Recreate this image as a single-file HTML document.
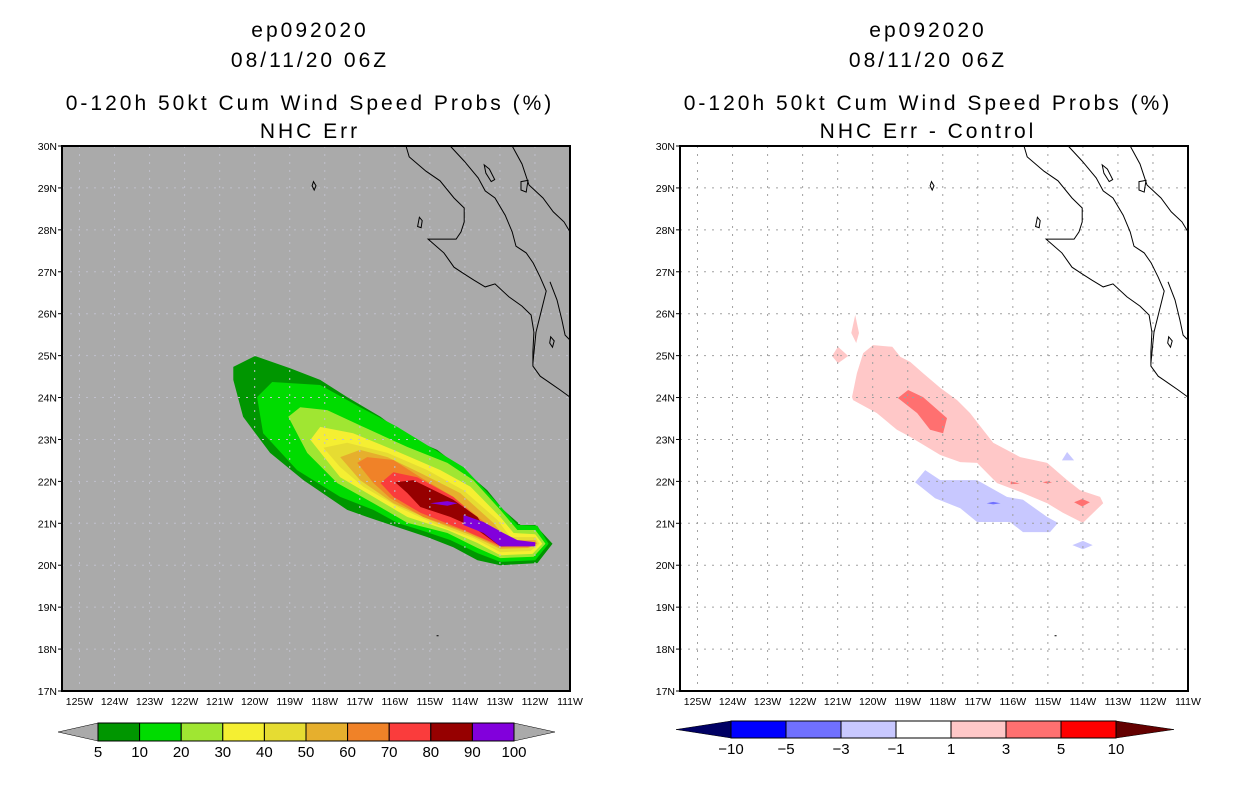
<!DOCTYPE html>
<html><head><meta charset="utf-8"><style>
html,body{margin:0;padding:0;background:#fff;}
svg{display:block;font-family:"Liberation Sans",sans-serif;}
.ttl{font-size:21px;text-anchor:middle;fill:#000;letter-spacing:3px;}
.tk{font-size:10.5px;fill:#000;}
.cb{font-size:15px;fill:#000;text-anchor:middle;}
</style></head><body>
<svg id="fig" width="1236" height="800" viewBox="0 0 1236 800">
<text class="ttl" x="310" y="37">ep092020</text>
<text class="ttl" x="310" y="67">08/11/20 06Z</text>
<text class="ttl" x="310" y="110">0-120h 50kt Cum Wind Speed Probs (%)</text>
<text class="ttl" x="310" y="138">NHC Err</text>
<text class="ttl" x="928" y="37">ep092020</text>
<text class="ttl" x="928" y="67">08/11/20 06Z</text>
<text class="ttl" x="928" y="110">0-120h 50kt Cum Wind Speed Probs (%)</text>
<text class="ttl" x="928" y="138">NHC Err - Control</text>
<g id="left"></g>
<g id="right"></g>
<g id="cbl"></g>
<g id="cbr"></g>
</svg>
<script>
// ---- data ----
const lonTicks=[-125,-124,-123,-122,-121,-120,-119,-118,-117,-116,-115,-114,-113,-112,-111];
const latTicks=[17,18,19,20,21,22,23,24,25,26,27,28,29,30];
const probLevels=[5,10,20,30,40,50,60,70,80,90,100];
const probColors=["#009600","#00dc00","#a0e632","#f5ef32","#e6dc32","#e6af2d","#f08228","#fa3c3c","#960000","#8200dc"];
const p5=[[-120.61,24.73],[-119.99,24.99],[-118.99,24.70],[-118.13,24.42],[-117.36,24.01],[-116.41,23.54],[-115.64,23.06],[-114.79,22.75],[-113.93,22.20],[-113.36,21.79],[-112.9,21.32],[-112.41,20.96],[-111.99,20.96],[-111.5,20.51],[-111.93,20.05],[-112.99,20.0],[-113.64,20.12],[-114.33,20.43],[-115.07,20.67],[-115.93,20.91],[-116.79,21.15],[-117.36,21.32],[-118.61,22.03],[-119.56,22.68],[-120.33,23.54],[-120.61,24.42]];
const p10=[[-119.93,24.01],[-119.5,24.37],[-118.13,24.30],[-116.99,23.77],[-115.93,23.30],[-114.99,22.82],[-114.04,22.34],[-113.07,21.48],[-112.5,20.96],[-111.93,20.94],[-111.61,20.51],[-111.99,20.12],[-112.99,20.08],[-113.64,20.29],[-114.41,20.60],[-115.27,20.84],[-115.93,21.01],[-116.61,21.32],[-117.56,21.63],[-118.79,22.27],[-119.76,23.15]];
const p20=[[-119.04,23.54],[-118.7,23.77],[-117.93,23.70],[-116.9,23.30],[-115.64,22.82],[-114.5,22.44],[-113.76,22.03],[-112.99,21.32],[-112.5,20.84],[-111.99,20.84],[-111.7,20.51],[-112.04,20.2],[-112.99,20.17],[-113.64,20.41],[-114.5,20.77],[-115.64,21.01],[-116.61,21.48],[-117.64,21.96],[-118.5,22.68]];
const p30=[[-118.41,22.99],[-118.13,23.30],[-117.19,23.15],[-116.04,22.75],[-114.7,22.27],[-113.84,21.87],[-112.99,21.15],[-112.61,20.77],[-111.99,20.74],[-111.79,20.51],[-112.07,20.27],[-112.99,20.24],[-113.64,20.53],[-114.5,20.84],[-115.64,21.15],[-116.61,21.63],[-117.56,22.10]];
const p40=[[-118.04,22.80],[-117.36,22.92],[-116.21,22.68],[-115.07,22.27],[-114.04,21.79],[-113.07,21.08],[-112.7,20.67],[-111.99,20.67],[-111.87,20.51],[-112.13,20.34],[-112.99,20.31],[-113.76,20.65],[-114.79,20.96],[-115.84,21.36],[-116.9,21.87],[-117.56,22.34]];
const p50=[[-117.56,22.58],[-116.99,22.75],[-116.21,22.58],[-115.27,22.20],[-114.13,21.72],[-113.19,21.01],[-112.79,20.60],[-111.99,20.60],[-111.93,20.51],[-112.19,20.41],[-112.99,20.39],[-113.84,20.72],[-114.99,21.08],[-116.04,21.48],[-116.99,22.03]];
const p60=[[-117.07,22.44],[-116.79,22.58],[-116.04,22.51],[-115.27,22.10],[-114.33,21.63],[-113.27,20.91],[-112.9,20.53],[-111.99,20.55],[-111.96,20.51],[-112.21,20.43],[-112.99,20.43],[-113.93,20.79],[-115.19,21.15],[-116.13,21.60],[-116.61,21.96]];
const p70=[[-116.41,21.96],[-116.04,22.22],[-115.36,22.10],[-114.33,21.63],[-113.36,20.91],[-112.9,20.60],[-111.99,20.55],[-112.33,20.46],[-112.99,20.46],[-114.04,20.84],[-115.27,21.25],[-116.04,21.63]];
const p80=[[-115.99,21.98],[-115.47,22.03],[-114.33,21.56],[-113.64,21.15],[-113.36,20.79],[-112.99,20.50],[-111.99,20.50],[-112.99,20.45],[-113.76,20.91],[-114.41,21.15],[-115.27,21.39],[-115.64,21.72]];
const p90a=[[-114.04,21.20],[-113.47,21.03],[-112.9,20.77],[-112.5,20.60],[-111.99,20.55],[-111.99,20.45],[-112.99,20.45],[-113.47,20.77],[-114.04,20.96]];
const p90b=[[-114.99,21.48],[-114.5,21.53],[-114.21,21.48],[-114.5,21.42]];
const probPolys=[p5,p10,p20,p30,p40,p50,p60,p70,p80,p90a,p90b];
const probPolyLevel=[0,1,2,3,4,5,6,7,8,9,9];

const diffLevels=[-10,-5,-3,-1,1,3,5,10];
const diffColors=["#0000ff","#7070ff","#c8c8ff","#ffffff","#ffc8c8","#ff7070","#ff0000"];
const dPink=[[-120.27,25.06],[-119.99,25.25],[-119.44,25.21],[-119.21,24.97],[-118.93,24.85],[-118.56,24.58],[-118.07,24.23],[-117.59,23.94],[-117.22,23.63],[-116.85,23.23],[-116.56,22.92],[-115.79,22.58],[-115.02,22.44],[-114.45,22.03],[-114.08,21.79],[-113.51,21.63],[-113.42,21.48],[-114.0,21.01],[-114.57,21.25],[-115.02,21.48],[-115.79,21.75],[-116.45,21.96],[-117.02,22.44],[-117.5,22.46],[-118.07,22.63],[-118.93,23.06],[-119.31,23.23],[-119.88,23.63],[-120.56,23.94],[-120.59,24.01],[-120.45,24.58]];
const dSpike=[[-120.5,25.97],[-120.39,25.54],[-120.47,25.30],[-120.61,25.54]];
const dDiamond=[[-120.99,25.21],[-120.7,24.99],[-120.99,24.82],[-121.16,24.99]];
const dRed=[[-119.28,23.99],[-118.99,24.18],[-118.56,24.01],[-117.88,23.51],[-117.99,23.15],[-118.36,23.23],[-118.73,23.63]];
const dRed2=[[-116.06,22.0],[-115.8,21.95],[-116.06,21.93]];
const dRed3=[[-115.15,21.98],[-115.02,22.0],[-114.88,21.98],[-115.02,21.95]];
const dRed4=[[-114.25,21.5],[-114.02,21.58],[-113.8,21.5],[-114.02,21.4]];
const dBlue=[[-118.79,21.98],[-118.5,22.27],[-118.07,22.03],[-117.02,22.03],[-116.17,21.63],[-115.71,21.56],[-115.02,21.15],[-114.71,21.01],[-114.94,20.79],[-115.71,20.79],[-116.08,21.03],[-117.02,21.03],[-117.5,21.36],[-118.22,21.60]];
const dBlue2=[[-116.75,21.48],[-116.56,21.51],[-116.35,21.48],[-116.56,21.45]];
const dBlue3=[[-114.45,22.70],[-114.25,22.50],[-114.6,22.50]];
const dBlue4=[[-114.3,20.48],[-114.0,20.58],[-113.72,20.48],[-114.0,20.38]];
const diffPolys=[dPink,dSpike,dDiamond,dRed,dRed2,dRed3,dRed4,dBlue,dBlue2,dBlue3,dBlue4];
const diffPolyLevel=[4,4,4,5,5,5,5,2,1,2,2];

const coastW=[[-115.68,30.0],[-115.59,29.74],[-115.11,29.4],[-114.71,29.17],[-114.31,28.76],[-114.02,28.52],[-114.02,28.19],[-114.11,27.95],[-114.25,27.78],[-115.05,27.78],[-114.6,27.45],[-114.31,27.11],[-114.02,26.95],[-113.74,26.8],[-113.42,26.64],[-113.14,26.71],[-112.74,26.4],[-112.37,26.18],[-112.11,25.97],[-112.03,25.56],[-112.06,25.09],[-112.06,24.75],[-111.85,24.51],[-111.57,24.35],[-111.28,24.18],[-111.0,24.01]];
const coastE=[[-114.42,30.0],[-114.02,29.64],[-113.62,29.24],[-113.42,28.93],[-113.14,28.76],[-112.85,28.35],[-112.65,27.95],[-112.54,27.61],[-112.25,27.45],[-112.05,27.21],[-111.85,26.87],[-111.68,26.54],[-111.77,26.23],[-111.97,25.56],[-112.06,24.82]];
const coastM1=[[-112.65,30.0],[-112.37,29.57],[-112.17,29.07],[-111.77,28.76],[-111.48,28.43],[-111.17,28.19],[-111.0,27.95]];
const coastM2=[[-111.57,26.76],[-111.37,26.33],[-111.23,25.85],[-111.14,25.49],[-111.0,25.37]];
const isl1=[[-115.3,28.3],[-115.22,28.22],[-115.25,28.05],[-115.35,28.08]];
const isl2=[[-118.32,29.15],[-118.25,29.05],[-118.3,28.95],[-118.36,29.05]];
const isl3=[[-113.45,29.55],[-113.3,29.45],[-113.15,29.2],[-113.25,29.15],[-113.4,29.35]];
const isl4=[[-112.4,29.15],[-112.2,29.18],[-112.25,28.9],[-112.4,28.95]];
const isl5=[[-111.55,25.45],[-111.45,25.35],[-111.5,25.2],[-111.58,25.3]];
const coastLines=[coastW,coastE,coastM1,coastM2];
const islands=[isl1,isl2,isl3,isl4,isl5];

// ---- drawing ----
const NS="http://www.w3.org/2000/svg";
const Y0=146,H=545,W=508,LON0=-125.5,LON1=-111,LAT0=17,LAT1=30;
function mk(tag,attrs,parent){const e=document.createElementNS(NS,tag);for(const k in attrs)e.setAttribute(k,attrs[k]);parent.appendChild(e);return e;}
function xs(x0,lon){return x0+(lon-LON0)/(LON1-LON0)*W;}
function ys(lat){return Y0+(LAT1-lat)/(LAT1-LAT0)*H;}
function pts(x0,arr){return arr.map(p=>xs(x0,p[0]).toFixed(1)+","+ys(p[1]).toFixed(1)).join(" ");}

function drawMap(g,x0,bg,grid,polys,levels,colors,prefix){
  const r=mk("rect",{x:x0,y:Y0,width:W,height:H,fill:bg},g);
  
  
  polys.forEach((poly,i)=>{
    const p=mk("polygon",{points:pts(x0,poly),fill:colors[levels[i]]},g);
    
    
  });
  lonTicks.forEach(lon=>{
    const x=xs(x0,lon);
    const l=mk("line",{x1:x,y1:Y0,x2:x,y2:Y0+H,stroke:grid,"stroke-width":1,"stroke-dasharray":"2,6"},g);
    
    
    const t=mk("text",{x:x,y:Y0+H+14,"text-anchor":"middle",class:"tk"},g);
    t.textContent=Math.abs(lon)+"W";
    
    
  });
  latTicks.forEach(lat=>{
    const y=ys(lat);
    if(lat>LAT0&&lat<LAT1){
      const l=mk("line",{x1:x0,y1:y,x2:x0+W,y2:y,stroke:grid,"stroke-width":1,"stroke-dasharray":"2,6"},g);
      
      
    }
    mk("line",{x1:x0-4,y1:y,x2:x0,y2:y,stroke:"#000"},g);
    const t=mk("text",{x:x0-5,y:y+4,"text-anchor":"end",class:"tk"},g);
    t.textContent=lat+"N";
    
    
  });
  coastLines.forEach(c=>{
    const pl=mk("polyline",{points:pts(x0,c),fill:"none",stroke:"#000","stroke-width":1},g);
    
    
  });
  islands.forEach(c=>{
    const pl=mk("polygon",{points:pts(x0,c),fill:"none",stroke:"#000","stroke-width":1},g);
    
    
  });
  mk("rect",{x:xs(x0,-114.78)-1,y:ys(18.33),width:2,height:1,fill:"#000"},g);
  const fr=mk("rect",{x:x0,y:Y0,width:W,height:H,fill:"none",stroke:"#000","stroke-width":2},g);
  
  
}
drawMap(document.getElementById("left"),62,"#aaaaaa","#c0c0cc",probPolys,probPolyLevel,probColors,"left");
drawMap(document.getElementById("right"),680,"#ffffff","#a0a0a0",diffPolys,diffPolyLevel,diffColors,"right");

function drawBar(g,xa,xb,y,h,colors,labels,tl,tr,tipL,tipR,prefix){
  const bw=(xb-xa)/colors.length;
  mk("polygon",{points:`${xa},${y} ${xa},${y+h} ${tipL},${y+h/2}`,fill:tl,stroke:"#000","stroke-width":0.5},g);
  mk("polygon",{points:`${xb},${y} ${xb},${y+h} ${tipR},${y+h/2}`,fill:tr,stroke:"#000","stroke-width":0.5},g);
  colors.forEach((c,i)=>{
    const r=mk("rect",{x:xa+i*bw,y:y,width:bw,height:h,fill:c,stroke:"#000","stroke-width":1},g);
    
    
  });
  labels.forEach((v,i)=>{
    const t=mk("text",{x:xa+i*bw,y:y+h+16,class:"cb"},g);
    t.textContent=String(v).replace("-","\u2212");
    
    
  });
}
drawBar(document.getElementById("cbl"),98,514,723,18,probColors,probLevels,"#aaaaaa","#aaaaaa",58,555,"left-colorbar");
drawBar(document.getElementById("cbr"),731,1116,721,17,diffColors,diffLevels,"#000064","#640000",676,1174,"right-colorbar");
</script>
</body></html>
